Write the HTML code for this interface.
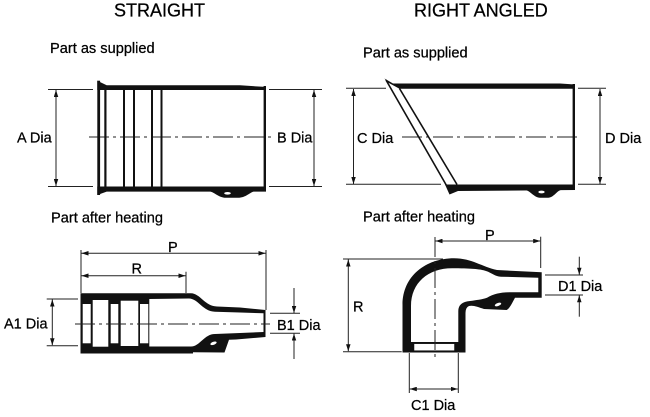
<!DOCTYPE html>
<html>
<head>
<meta charset="utf-8">
<style>
html,body{margin:0;padding:0;background:#fff;}
svg{display:block;}
text{font-family:"Liberation Sans",Arial,sans-serif;fill:#000;stroke:#000;stroke-width:0.25;}
</style>
</head>
<body>
<svg width="650" height="417" viewBox="0 0 650 417" xmlns="http://www.w3.org/2000/svg">
<defs>
<marker id="a" viewBox="0 0 7 4.5" refX="7" refY="2.25" markerWidth="7" markerHeight="4.5" orient="auto-start-reverse" markerUnits="userSpaceOnUse">
<path d="M0,0 L7,2.25 L0,4.5 Z" fill="#111"/>
</marker>
</defs>
<rect width="650" height="417" fill="#fff"/>

<!-- Titles -->
<text x="114" y="16.5" font-size="18">STRAIGHT</text>
<text x="414" y="16.5" font-size="18">RIGHT ANGLED</text>
<text x="50" y="53" font-size="14.6">Part as supplied</text>
<text x="363" y="57.5" font-size="14.6">Part as supplied</text>
<text x="51" y="222.5" font-size="14.6">Part after heating</text>
<text x="363" y="221.5" font-size="14.6">Part after heating</text>

<!-- ============ STRAIGHT: as supplied ============ -->
<g stroke="#222" stroke-width="1" fill="none">
  <line x1="48" y1="89.5" x2="93" y2="89.5"/>
  <line x1="48" y1="186.5" x2="93" y2="186.5"/>
  <line x1="56" y1="90" x2="56" y2="186" marker-start="url(#a)" marker-end="url(#a)"/>
  <line x1="269" y1="89.5" x2="322" y2="89.5"/>
  <line x1="269" y1="186.5" x2="322" y2="186.5"/>
  <line x1="314" y1="90" x2="314" y2="186" marker-start="url(#a)" marker-end="url(#a)"/>
  <line x1="89" y1="137" x2="275" y2="137" stroke-dasharray="20 4 3 4"/>
</g>
<g fill="#111">
  <polygon points="97.3,80.7 106.7,85.3 240,85.3 263,86.8 266,86.8 266,90 97.3,90"/>
  <polygon points="97.3,195 106.7,191.6 266,191.6 266,186.5 97.3,186.5"/>
  <rect x="97.3" y="80.7" width="2.8" height="114.3"/>
  <rect x="104.3" y="89" width="2.2" height="98"/>
  <rect x="123" y="89" width="2" height="98"/>
  <rect x="133" y="89" width="2" height="98"/>
  <rect x="151" y="89" width="2" height="98"/>
  <rect x="160.5" y="89" width="2" height="98"/>
  <rect x="263.6" y="86" width="2.4" height="105"/>
  <path d="M206 190.5 C214 191 218 197.8 226 197.8 L238 197.8 C247 197.8 250 191 258 190.5 Z"/>
</g>
<ellipse cx="227.5" cy="193.3" rx="3.3" ry="1.3" fill="#fff"/>
<text x="17" y="142.3" font-size="14.5">A Dia</text>
<text x="277" y="142.6" font-size="14.5">B Dia</text>

<!-- ============ RIGHT ANGLED: as supplied ============ -->
<g stroke="#222" stroke-width="1" fill="none">
  <line x1="346" y1="88.3" x2="386" y2="88.3"/>
  <line x1="346" y1="184.3" x2="441" y2="184.3"/>
  <line x1="353.5" y1="89" x2="353.5" y2="184" marker-start="url(#a)" marker-end="url(#a)"/>
  <line x1="578" y1="88.3" x2="606" y2="88.3"/>
  <line x1="578" y1="184.3" x2="606" y2="184.3"/>
  <line x1="600" y1="89" x2="600" y2="184" marker-start="url(#a)" marker-end="url(#a)"/>
  <line x1="402" y1="137" x2="581" y2="137" stroke-dasharray="20 4 3 4"/>
</g>
<g stroke="#111" stroke-width="1.6" fill="none">
  <line x1="386" y1="80" x2="446.5" y2="185.5"/>
  <line x1="399.5" y1="88.5" x2="457" y2="184.5"/>
</g>
<g fill="#111">
  <polygon points="384.5,78.5 393,83.5 560,83.5 575,84.5 575,88.8 399.5,88.8 387,82"/>
  <polygon points="445,184.5 575,184.5 575,190 458,191 449.5,194.5"/>
  <rect x="572.6" y="84" width="2.4" height="106"/>
  <path d="M523 189.5 C531 190 533 197.8 541 197.8 L547 197.8 C555 197.8 556 190 563 189.5 Z"/>
</g>
<ellipse cx="541.5" cy="192" rx="3.2" ry="1.4" fill="#fff"/>
<text x="357" y="143" font-size="14.5">C Dia</text>
<text x="605" y="143" font-size="14.5">D Dia</text>

<!-- ============ STRAIGHT: after heating ============ -->
<g stroke="#222" stroke-width="1" fill="none">
  <line x1="81" y1="250" x2="81" y2="293"/>
  <line x1="266" y1="250" x2="266" y2="310"/>
  <line x1="81.5" y1="253.3" x2="265.5" y2="253.3" marker-start="url(#a)" marker-end="url(#a)"/>
  <line x1="186" y1="271.7" x2="186" y2="293"/>
  <line x1="81.5" y1="275.7" x2="185.5" y2="275.7" marker-start="url(#a)" marker-end="url(#a)"/>
  <line x1="46.7" y1="299" x2="78" y2="299"/>
  <line x1="46.7" y1="345.7" x2="78" y2="345.7"/>
  <line x1="52.3" y1="299.5" x2="52.3" y2="345.2" marker-start="url(#a)" marker-end="url(#a)"/>
  <line x1="270" y1="313.3" x2="300" y2="313.3"/>
  <line x1="270" y1="333.3" x2="300" y2="333.3"/>
  <line x1="294" y1="288" x2="294" y2="313" marker-end="url(#a)"/>
  <line x1="294" y1="359" x2="294" y2="333.6" marker-end="url(#a)"/>
</g>
<path fill="#111" d="M80.5 293.3 L191 293.3 C200 293.3 205 306.5 217 306.5 L240 307.5 L265.5 310 L265.5 337 L236 339.5 L229 339.8 L224.5 352.5 L193 352.3 L193 353.5 L80.5 353.5 Z"/>
<g fill="#fff">
  <path d="M149.3 299 L189 298.5 C198 298.5 203 311.7 215 311.7 L240 312.5 L263.5 313.3 L263.5 332 L240 333 L215 334 C204 334 200 346.5 191 346.5 L149.3 346.5 Z"/>
  <rect x="82.7" y="304" width="8" height="39.3"/>
  <rect x="92.7" y="300" width="15.6" height="46.7"/>
  <rect x="110.7" y="304" width="7.6" height="39.3"/>
  <rect x="120.7" y="300.7" width="17.6" height="45.3"/>
  <rect x="140" y="304" width="8.3" height="39.3"/>
  <ellipse cx="213.5" cy="343.3" rx="3.3" ry="1.5" transform="rotate(-20 213.5 343.3)"/>
</g>
<line x1="75" y1="324" x2="270" y2="324" stroke="#222" stroke-width="1" stroke-dasharray="20 4 3 4"/>
<text x="168" y="252" font-size="14.5">P</text>
<text x="131.5" y="273.3" font-size="14.5">R</text>
<text x="4" y="328.5" font-size="14.5">A1 Dia</text>
<text x="277" y="330" font-size="14.5">B1 Dia</text>

<!-- ============ RIGHT ANGLED: after heating ============ -->
<g stroke="#222" stroke-width="1" fill="none">
  <line x1="540.7" y1="236.7" x2="540.7" y2="268"/>
  <line x1="435.5" y1="241" x2="540.2" y2="241" marker-start="url(#a)" marker-end="url(#a)"/>
  <line x1="343" y1="259" x2="443" y2="259"/>
  <line x1="343" y1="351.7" x2="401.7" y2="351.7"/>
  <line x1="348.3" y1="259.5" x2="348.3" y2="351.2" marker-start="url(#a)" marker-end="url(#a)"/>
  <line x1="545" y1="275" x2="583" y2="275"/>
  <line x1="545" y1="295" x2="583" y2="295"/>
  <line x1="579.3" y1="256.7" x2="579.3" y2="274.7" marker-end="url(#a)"/>
  <line x1="579.3" y1="316.7" x2="579.3" y2="295.3" marker-end="url(#a)"/>
  <line x1="409.3" y1="353" x2="409.3" y2="393"/>
  <line x1="458.3" y1="353" x2="458.3" y2="393"/>
  <line x1="409.8" y1="389" x2="457.8" y2="389" marker-start="url(#a)" marker-end="url(#a)"/>
</g>
<path fill="#111" d="M402.5 352.5 L402.5 305 C402.5 276 426 258.3 454 258.3 C472 258.3 482 267 497 270 L541.7 272.3 L541.7 297.7 L515 297.7 C512 303 510 308 506.7 310 L484 309 C478 307 473 305 469 306 Q465.5 307.5 465.5 313 L465.5 352.5 Z"/>
<path fill="#fff" d="M411 342 L411 306 C411 283 428 268.3 452 268.3 C470 268.3 480 269 486 271 C492 273 495 276.5 501 276.7 L538.3 277.7 L538.3 292.3 L510 292.3 C500 292.3 494 294 487 297.7 C482 299.5 476 300 470 301 Q458.3 302 458.3 311 L458.3 342 Z"/>
<rect x="413.5" y="343.2" width="41.5" height="8" fill="#fff" stroke="#111" stroke-width="1.5"/>
<ellipse cx="498" cy="304.5" rx="3.4" ry="1.5" fill="#fff" transform="rotate(-20 498 304.5)"/>
<line x1="435" y1="237" x2="435" y2="360" stroke="#222" stroke-width="1" stroke-dasharray="20 4 3 4"/>
<text x="485" y="240" font-size="14.5">P</text>
<text x="353" y="311.5" font-size="14.5">R</text>
<text x="558" y="291" font-size="14.5">D1 Dia</text>
<text x="411" y="410" font-size="14.5">C1 Dia</text>
</svg>
</body>
</html>
